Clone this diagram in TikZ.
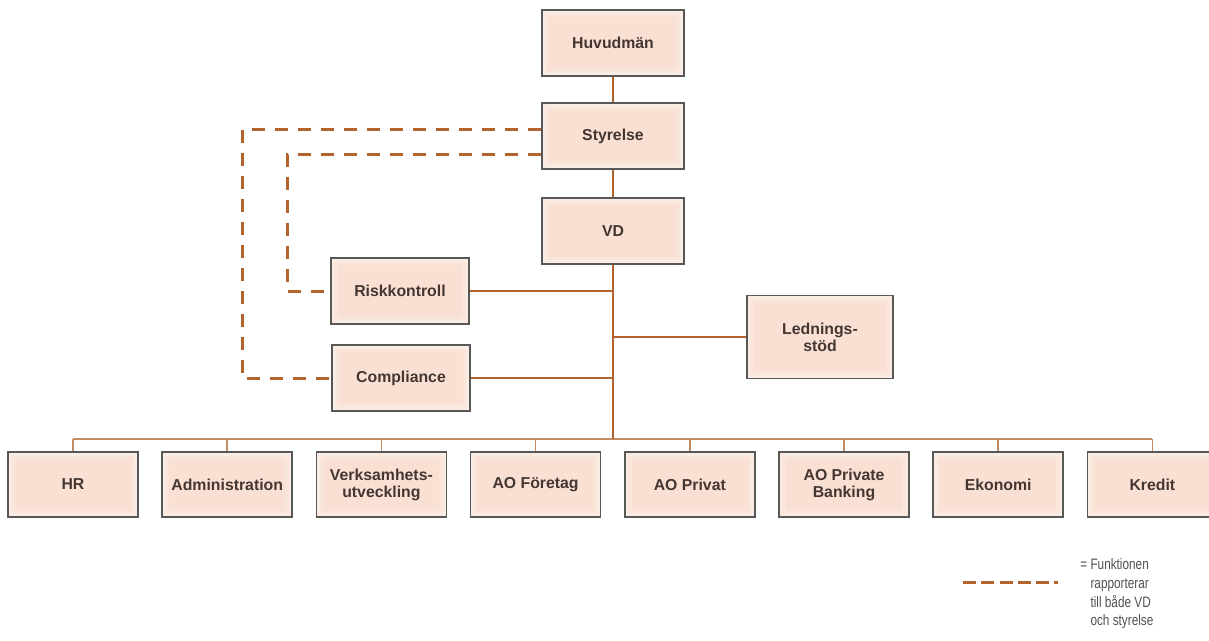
\documentclass[tikz,border=0pt]{standalone}
\usepackage{fontspec}
\setsansfont{Liberation Sans}
\newfontfamily\legendfont[FakeStretch=0.78]{Liberation Sans}
\usepackage{tikz}
\usetikzlibrary{positioning}

\definecolor{orgline}{RGB}{178,100,44}
\definecolor{busline}{RGB}{196,140,100}
\definecolor{boxfill}{RGB}{249,224,210}
\definecolor{boxedge}{RGB}{88,88,88}
\definecolor{boxtext}{RGB}{68,54,50}
\definecolor{legendtext}{RGB}{80,80,80}

\tikzset{
    unit/.style={rectangle, draw=boxedge, line width=1pt, fill=boxfill,
        text=boxtext, align=center, inner sep=2pt,
        path picture={
            \draw[white!18!boxfill, line width=8pt] (path picture bounding box.south west) rectangle (path picture bounding box.north east);
            \draw[white!38!boxfill, line width=4pt] (path picture bounding box.south west) rectangle (path picture bounding box.north east);
        },
        font=\sffamily\bfseries\fontsize{9}{9.6}\selectfont},
    topunit/.style={unit, minimum width=2.84cm, minimum height=1.32cm},
    staffunit/.style={unit, minimum width=2.76cm, minimum height=1.32cm},
    baseunit/.style={unit, minimum width=2.6cm, minimum height=1.3cm},
    trunk/.style={orgline, line width=1.6pt},
    branch/.style={orgline, line width=1pt},
    bus/.style={busline, line width=0.9pt},
    dualreport/.style={orgline, line width=1.7pt, dash pattern=on 7.4pt off 5.7pt}
}

\begin{document}
\begin{tikzpicture}[x=0.02cm, y=-0.02cm]
    \useasboundingbox (0,0) rectangle (1209,640);

    % ledning
    \draw (613, 43) node[topunit] (huv) {Huvudmän};
    \draw (613, 136) node[topunit] (styr) {Styrelse};
    \draw (613, 231) node[topunit] (vd) {VD};
    \coordinate (bus) at (613, 439);

    % stab
    \draw (400, 291) node[staffunit] (risk) {Riskkontroll};
    \draw (401, 378) node[staffunit] (comp) {Compliance};
    \draw (820, 337) node[staffunit, minimum width=2.92cm, minimum height=1.66cm] (led) {Lednings-\\stöd};

    \draw[trunk] (huv) -- (styr);
    \draw[trunk] (styr) -- (vd);
    \draw[trunk] (vd) -- (bus);
    \draw[branch] (risk.east) -- (risk.east -| vd);
    \draw[branch] (comp.east) -- (comp.east -| vd);
    \draw[branch] (led.west) -- (led.west -| vd);

    % rapporterar till styrelsen
    \draw[dualreport] ([yshift=3.7pt]styr.west) -- ++(-299,0) |- (comp.west);
    \draw[dualreport] ([yshift=-10.5pt]styr.west) -- ++(-254,0) |- (risk.west);

    % avdelningar
    \foreach \n/\lbl in {1/HR, 2/Administration, 3/{Verksamhets-\\utveckling},
        4/AO Företag, 5/AO Privat, 6/{AO Private\\Banking}, 7/Ekonomi, 8/Kredit}{
        \draw (73 + 154.2*\n - 154.2, 484.5) node[baseunit] (dept\n) {\lbl};
        \draw[bus] (dept\n.north |- bus) -- (dept\n.north);
    }
    \draw[bus] (dept1.north |- bus) -- (dept8.north |- bus);
    \draw[trunk] (vd) -- (bus);

    % förklaring
    \coordinate (keyA) at (963, 582);
    \coordinate (keyB) at (1058, 582);
    \draw[orgline, line width=1.7pt, dash pattern=on 7.4pt off 3pt] (keyA) -- (keyB);
    \draw (1080, 556) node[anchor=north west, inner sep=0pt, text=legendtext, align=left,
        font=\legendfont\fontsize{8.6}{10.7}\selectfont] (key)
        {= \begin{tabular}[t]{@{}l@{}}Funktionen\\rapporterar\\till både VD\\och styrelse\end{tabular}};
\end{tikzpicture}
\end{document}
